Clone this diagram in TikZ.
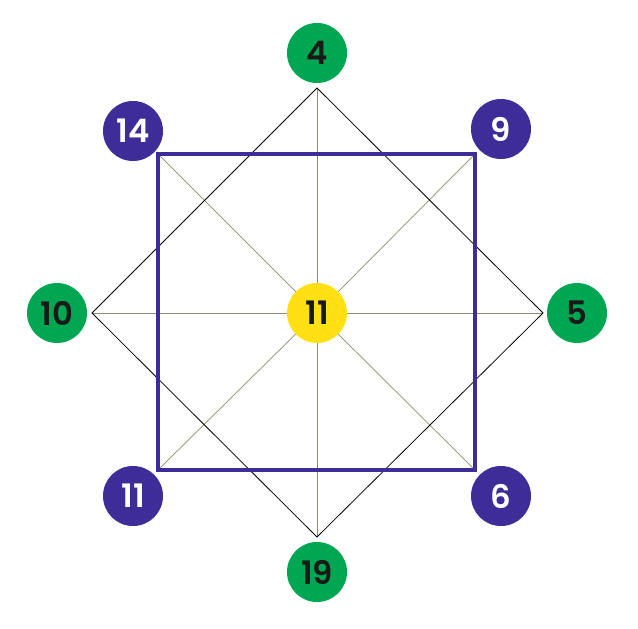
\documentclass[tikz,border=0pt]{standalone}
\usepackage{fontspec}
\setmainfont{Poppins}[BoldFont={* SemiBold}]
\usetikzlibrary{positioning, backgrounds}

\definecolor{dotgreen}{RGB}{0,166,81}
\definecolor{dotpurple}{RGB}{62,45,152}
\definecolor{dotyellow}{RGB}{255,224,20}
\definecolor{spoke}{RGB}{140,140,115}

\begin{document}
\begin{tikzpicture}[
    x=0.025cm, y=-0.025cm,
    dot/.style      = {circle, minimum size=1.5cm, inner sep=0pt,
                       font=\fontsize{23}{23}\selectfont\bfseries},
    greendot/.style = {dot, fill=dotgreen, text=black!90},
    purpdot/.style  = {dot, fill=dotpurple, text=white},
    sundot/.style   = {dot, fill=dotyellow, text=black!90},
    spokeline/.style= {line width=0.5pt, draw=spoke},
    diag/.style     = {line width=0.55pt, draw=black},
    frame/.style    = {line width=2.6pt, draw=dotpurple},
]
\useasboundingbox (0,0) rectangle (638,629);

%% ============================================================
%% CORNERS
%% ============================================================

\coordinate (dT) at (317, 88);
\coordinate (dB) at (317, 537);
\coordinate (dL) at (92, 313);
\coordinate (dR) at (543, 313);

\coordinate (sTL) at (158, 154);
\coordinate (sTR) at (475, 154);
\coordinate (sBL) at (158, 470);
\coordinate (sBR) at (475, 470);

%% ============================================================
%% DOTS
%% ============================================================

\node[sundot]   (mid) at (317, 313) {11};
\node[greendot] (n4)  at (317, 53)  {4};
\node[greendot] (n19) at (317, 572) {19};
\node[greendot] (n10) at (57, 313)  {10};
\node[greendot] (n5)  at (577, 313) {5};
\node[purpdot]  (n14) at (133, 131) {14};
\node[purpdot]  (n9)  at (501, 129) {9};
\node[purpdot]  (n11) at (133, 496) {11};
\node[purpdot]  (n6)  at (501, 496) {6};

%% ============================================================
%% LINES
%% ============================================================

\begin{scope}[on background layer]
    \foreach \p in {dT, dB, dL, dR, sTL, sTR, sBL, sBR}
        \draw[spokeline] (mid.center) -- (\p);
    \draw[diag] (dT) -- (dR) -- (dB) -- (dL) -- cycle;
    \draw[frame] (sTL) rectangle (sBR);
\end{scope}

\end{tikzpicture}
\end{document}
